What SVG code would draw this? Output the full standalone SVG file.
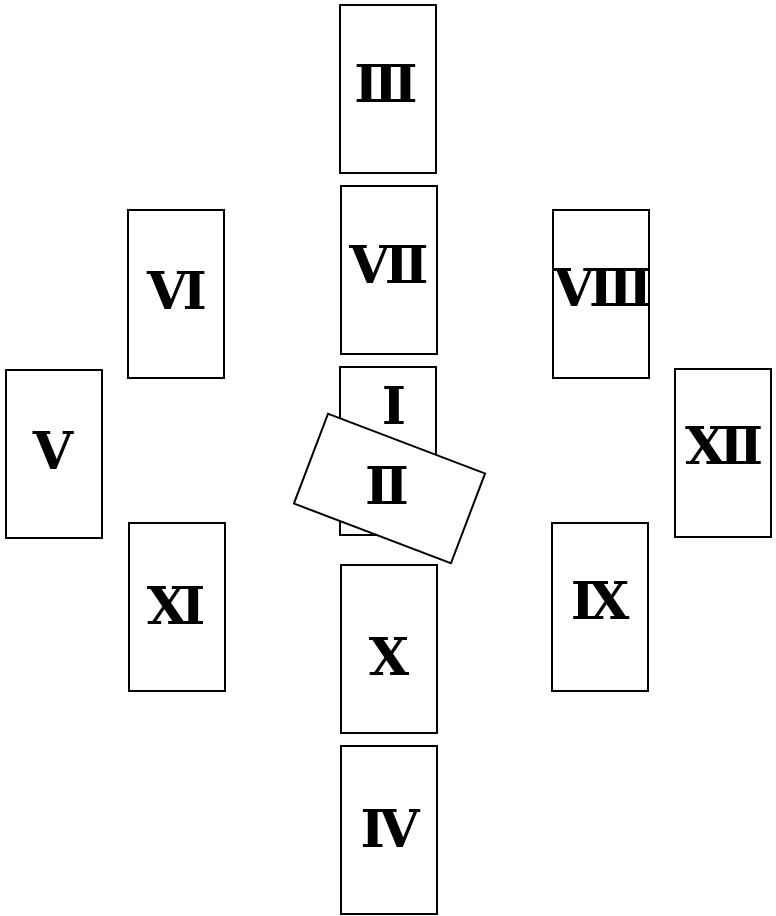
<svg xmlns="http://www.w3.org/2000/svg" width="776" height="916" viewBox="0 0 776 916">
<style>
.card{fill:#fff;stroke:#000;stroke-width:2}
.lbl{font-family:"DejaVu Serif","Liberation Serif",serif;font-weight:bold;font-size:52px;fill:#000;text-anchor:middle}
</style>
<rect width="776" height="916" fill="#fff"/>
<g id="connectors"/>
<g id="card3"><rect class="card" x="340" y="5" width="96" height="168"/><text class="lbl" x="386" y="102">Ⅲ</text></g>
<g id="card7"><rect class="card" x="341" y="186" width="96" height="168"/><text class="lbl" x="389" y="283">Ⅶ</text></g>
<g id="card1"><rect class="card" x="340" y="367" width="96" height="168"/><text class="lbl" x="394" y="424">Ⅰ</text></g>
<g id="card2"><rect class="card" x="305.5" y="440.5" width="168" height="96" transform="rotate(20.8 389.5 488.5)"/><text class="lbl" x="387" y="504">Ⅱ</text></g>
<g id="card10"><rect class="card" x="341" y="565" width="96" height="168"/><text class="lbl" x="389" y="675">Ⅹ</text></g>
<g id="card4"><rect class="card" x="341" y="746" width="96" height="168"/><text class="lbl" x="390" y="847">Ⅳ</text></g>
<g id="card6"><rect class="card" x="128" y="210" width="96" height="168"/><text class="lbl" x="177" y="309">Ⅵ</text></g>
<g id="card5"><rect class="card" x="6" y="370" width="96" height="168"/><text class="lbl" x="53" y="469">Ⅴ</text></g>
<g id="card11"><rect class="card" x="129" y="523" width="96" height="168"/><text class="lbl" x="176" y="624">Ⅺ</text></g>
<g id="card8"><rect class="card" x="553" y="210" width="96" height="168"/><text class="lbl" x="603" y="306">Ⅷ</text></g>
<g id="card12"><rect class="card" x="675" y="369" width="96" height="168"/><text class="lbl" x="724" y="464">Ⅻ</text></g>
<g id="card9"><rect class="card" x="552" y="523" width="96" height="168"/><text class="lbl" x="600" y="619">Ⅸ</text></g>
</svg>
